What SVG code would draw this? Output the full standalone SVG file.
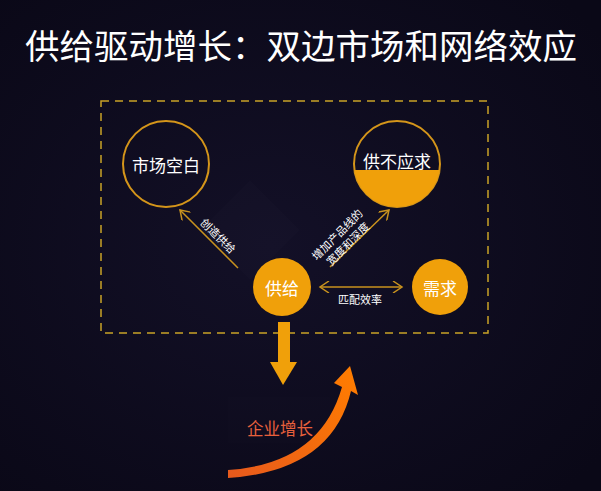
<svg xmlns="http://www.w3.org/2000/svg" width="601" height="491" viewBox="0 0 601 491">
  <defs>
    <radialGradient id="bg" cx="0.45" cy="0.5" r="0.7">
      <stop offset="0" stop-color="#131027"/>
      <stop offset="1" stop-color="#0a0817"/>
    </radialGradient>
    <linearGradient id="grow" x1="228" y1="470" x2="355" y2="370" gradientUnits="userSpaceOnUse">
      <stop offset="0" stop-color="#e85a1c"/>
      <stop offset="1" stop-color="#ff7d00"/>
    </linearGradient>
    <clipPath id="halfClip">
      <rect x="350" y="170" width="100" height="50"/>
    </clipPath>
    <marker id="chev" viewBox="0 0 12 12" refX="10" refY="6" markerWidth="12" markerHeight="12" markerUnits="userSpaceOnUse" orient="auto-start-reverse">
      <path d="M1,0 L10,6 L1,12" fill="none" stroke="#c8921e" stroke-width="1.5"/>
    </marker>
    <style>
      text { font-family: "Noto Sans CJK SC", "Noto Sans", sans-serif; }
      .conn { stroke: #c8921e; stroke-width: 1.5; fill: none; }
      .lbl { fill: #ffffff; font-size: 11px; text-anchor: middle; }
      .node-text { fill: #ffffff; font-size: 17px; text-anchor: middle; dominant-baseline: central; }
      .orange { fill: #f0a00a; }
    </style>
  </defs>

  <rect width="601" height="491" fill="url(#bg)"/>
  <polygon points="250,180 300,230 250,280 200,230" fill="#ffffff" fill-opacity="0.012"/>

  <text x="301" y="59" fill="#ffffff" font-size="34.5" text-anchor="middle">供给驱动增长：双边市场和网络效应</text>

  <rect id="frame" x="101" y="101" width="387" height="232" fill="none" stroke="#c9a227" stroke-width="1.5" stroke-dasharray="8,6"/>

  <g id="connectors">
    <line class="conn" x1="238" y1="268" x2="180" y2="210" marker-end="url(#chev)"/>
    <line class="conn" x1="330" y1="267" x2="389" y2="210" marker-end="url(#chev)"/>
    <line class="conn" x1="320" y1="287" x2="402" y2="287" marker-start="url(#chev)" marker-end="url(#chev)"/>
    <text class="lbl" transform="translate(218,236) rotate(45)" y="4">创造供给</text>
    <g transform="translate(343,239) rotate(-45)">
      <text class="lbl" x="-1" y="-3">增加产品线的</text>
      <text class="lbl" x="0" y="11">宽度和深度</text>
    </g>
    <text class="lbl" x="360" y="304">匹配效率</text>
  </g>

  <g id="node-gap">
    <circle cx="166" cy="164" r="43" fill="none" stroke="#d4951a" stroke-width="2"/>
    <text class="node-text" x="166" y="164">市场空白</text>
  </g>

  <g id="node-shortage">
    <circle cx="397" cy="164" r="43" fill="none" stroke="#d4951a" stroke-width="2"/>
    <circle class="orange" cx="397" cy="164" r="43" clip-path="url(#halfClip)"/>
    <text class="node-text" x="397" y="160">供不应求</text>
  </g>

  <g id="node-supply">
    <circle class="orange" cx="282" cy="287" r="29"/>
    <text class="node-text" x="282" y="287" font-size="16">供给</text>
  </g>

  <g id="node-demand">
    <circle class="orange" cx="440" cy="287" r="28"/>
    <text class="node-text" x="440" y="287" font-size="16.5">需求</text>
  </g>

  <g id="down-arrow">
    <rect class="orange" x="278" y="322" width="12" height="42"/>
    <polygon class="orange" points="270,362 297,362 283,385"/>
  </g>

  <g id="growth">
    <rect x="228" y="397" width="102" height="46" fill="#ffffff" fill-opacity="0.008"/>
    <text x="280" y="435" fill="#e8603c" font-size="16.5" text-anchor="middle">企业增长</text>
    <path d="M228,478 Q332,471 351,391 L358,395 L350,366 L334,383 L342,387 Q320,464 228,470 Z" fill="url(#grow)"/>
  </g>
</svg>
